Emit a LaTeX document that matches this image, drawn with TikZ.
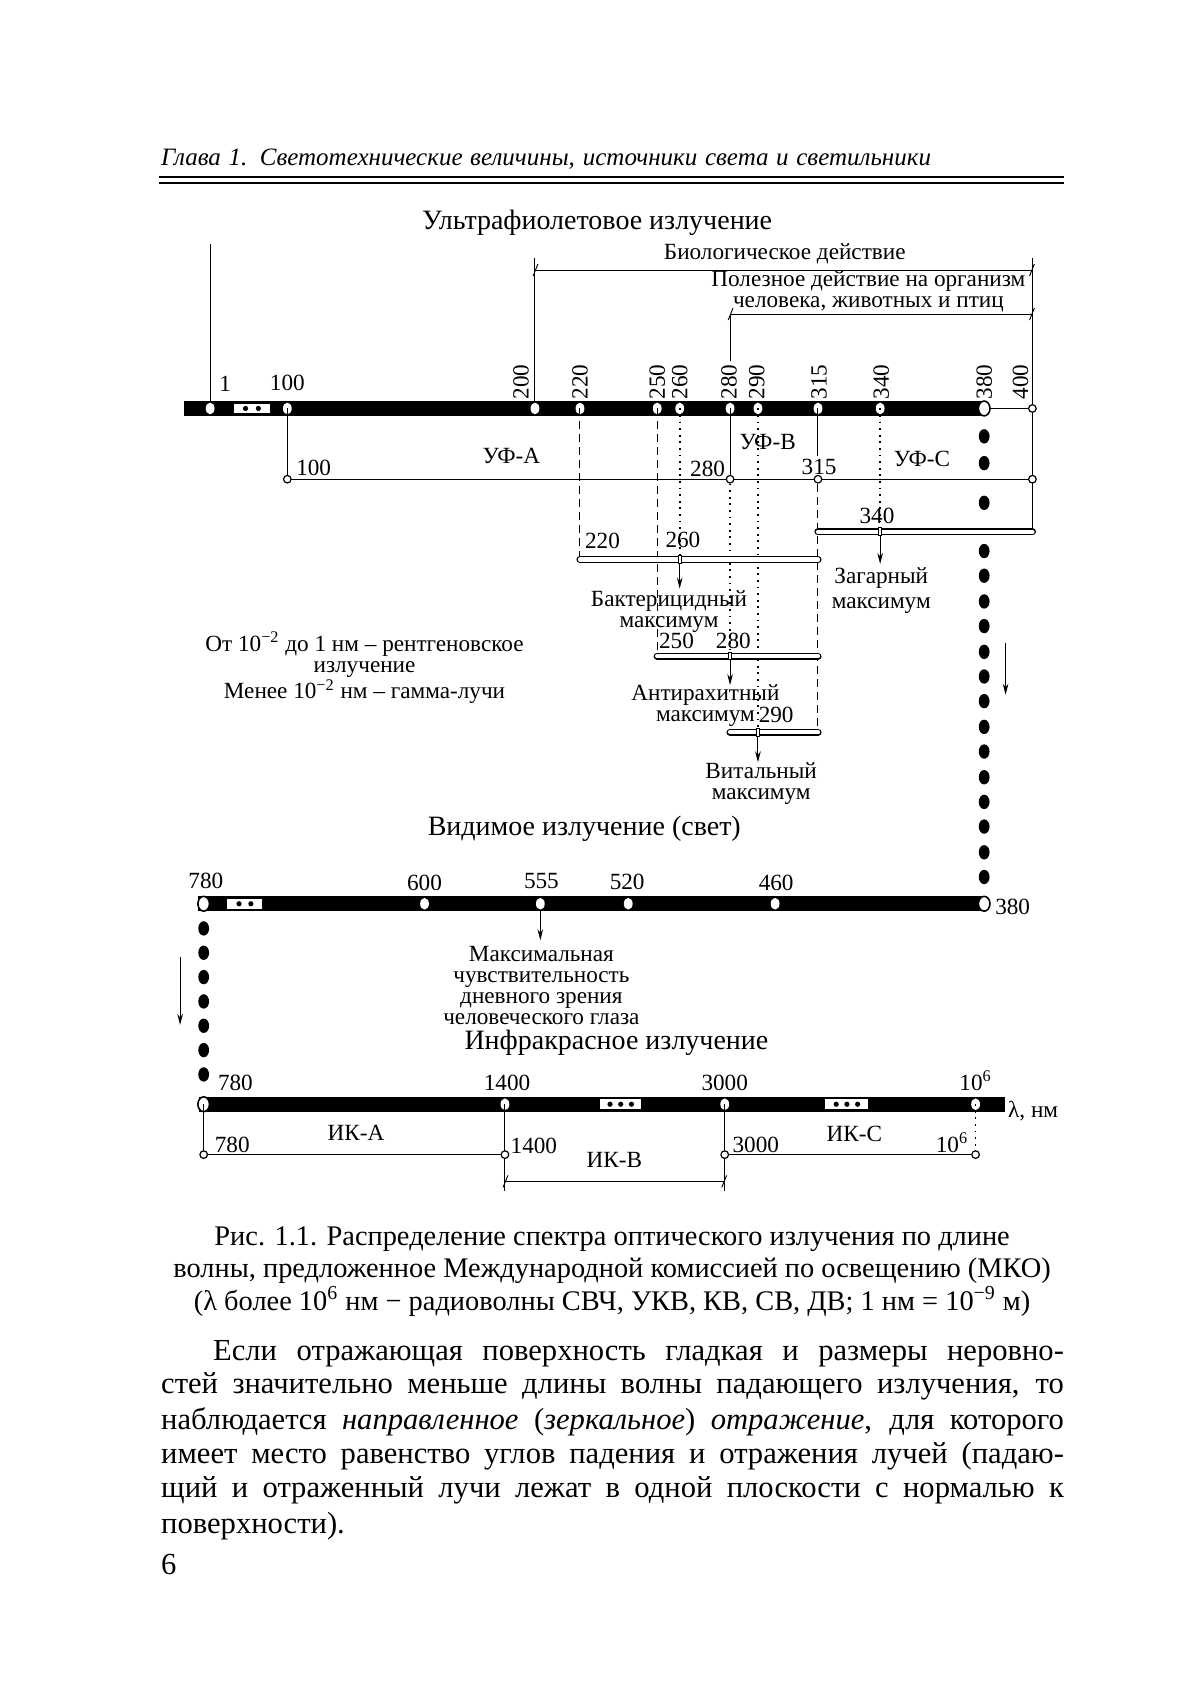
\documentclass[tikz,border=0pt]{standalone}
\usepackage{fontspec}
\setmainfont{Liberation Serif}
\usetikzlibrary{arrows.meta,shapes.geometric}

\begin{document}
\begin{tikzpicture}[x=0.53619pt,y=-0.53619pt]

% ---------------------------------------------------------------- styles
\tikzset{
  lbl/.style    = {inner sep=0pt, align=center, font=\fontsize{11.6}{10.5}\selectfont},
  ttl/.style    = {inner sep=0pt, font=\fontsize{14}{16}\selectfont},
  txt/.style    = {inner sep=0pt, anchor=base west, font=\fontsize{15.3}{17}\selectfont},
  captxt/.style = {inner sep=0pt, anchor=base, font=\fontsize{14.2}{15}\selectfont},
  vnum/.style   = {lbl, rotate=90, anchor=west},
  band/.style   = {line width=7.5pt},
  wdot/.style   = {ellipse, fill=white, inner sep=0pt, minimum width=4.4pt, minimum height=5.8pt},
  bdot/.style   = {ellipse, fill=black, inner sep=0pt, minimum width=5.4pt, minimum height=7.2pt},
  sdot/.style   = {circle, fill=black, inner sep=0pt, minimum size=2.6pt},
  endc/.style   = {ellipse, draw, fill=white, line width=0.8pt, inner sep=0pt,
                   minimum width=5.8pt, minimum height=7.4pt},
  ocirc/.style  = {circle, draw, fill=white, line width=0.6pt, inner sep=0pt, minimum size=3.8pt},
  skipbox/.style= {rectangle, fill=white, inner sep=0pt, minimum height=4.8pt},
  notch/.style  = {rectangle, draw, fill=white, line width=0.5pt, inner sep=0pt,
                   minimum width=1.6pt, minimum height=3.8pt},
  thinl/.style  = {line width=0.5pt},
  dsh/.style    = {thinl, dash pattern=on 4pt off 2.5pt},
  dtt/.style    = {line width=0.9pt, dash pattern=on 0.9pt off 2.4pt},
  tube/.style   = {line width=0.7pt, double distance=2.2pt, line cap=round},
  arr/.style    = {thinl, -{Stealth[length=5.5pt,width=2.8pt]}},
  brk/.style    = {thinl, {Bar[width=6pt,slant=.4]}-{Bar[width=6pt,slant=.4]}},
}

\useasboundingbox (0,0) rectangle (1119,1568);
\fill[white] (0,0) rectangle (1119,1568);

% ================================================================ header
\node[inner sep=0pt, anchor=base west, font=\fontsize{12.5}{14}\selectfont\itshape] (hdr) at (150,154)
  {\makebox[385pt][s]{Глава 1. Светотехнические величины, источники света и светильники}};
\coordinate (hrA) at (148,165);  \coordinate (hrB) at (992,165);
\coordinate (hrC) at (148,171);  \coordinate (hrD) at (992,171);
\draw[line width=1.1pt] (hrA) -- (hrB);
\draw[line width=1.1pt] (hrC) -- (hrD);

% ============================================================ 1 ultraviolet
\node[ttl] (tuv) at (557,208) {Ультрафиолетовое излучение};

\foreach \v/\x in {1/196,100/268,200/499,220/541,250/613,260/634,280/681,
                   290/707,315/763,340/821,380/918,400/963}
  \coordinate (u\v) at (\x,381);
\coordinate (uvL)  at (172,381);
\coordinate (topL) at (0,228);
\coordinate (bioT) at (0,241);
\coordinate (bio)  at (0,252);
\coordinate (use)  at (0,293);
\coordinate (lblT) at (0,337);
\coordinate (l315) at (0,425);
\coordinate (rowA) at (0,447);
\coordinate (rowB) at (0,496);
\coordinate (rowC) at (0,522);
\coordinate (rowD) at (0,612);
\coordinate (rowE) at (0,683);

% brackets above the scale
\draw[thinl] (u1) -- (u1 |- topL);
\draw[thinl] (u200) -- (u200 |- bioT);
\draw[thinl] (u400 |- bioT) -- (u400 |- rowB);
\draw[brk]   (u200 |- bio) -- (u400 |- bio);
\draw[thinl] (u280 |- lblT) -- (u280 |- use);
\draw[brk]   (u280 |- use) -- (u400 |- use);
\node[lbl] (tbio) at (732,237) {Биологическое действие};
\node[lbl] (tuse) at (810,272) {Полезное действие на организм\\человека, животных и птиц};

% the scale itself
\draw[band]  (uvL) -- (u380);
\draw[thinl] (u380) -- (u400);
\node[skipbox, minimum width=18pt] (gapu) at (235,381) {};
\node[sdot] (gu1) at (229,381) {};
\node[sdot] (gu2) at (241,381) {};
\foreach \v in {1,100,200,220,250,260,280,290,315,340}
  \node[wdot] (du\v) at (u\v) {};
\node[endc]  (du380) at (u380) {};
\node[ocirc] (du400) at (u400) {};

\node[lbl] (nu1)   at (210,358) {1};
\node[lbl] (nu100) at (268,357) {100};
\foreach \v/\x in {200/486,220/541,250/613,260/634,280/680,290/706,
                   315/764,340/822,380/918,400/952}
  \node[vnum] (nv\v) at (\x,373) {\v};

% UV-A, UV-B, UV-C
\draw[thinl] (u100) -- (u100 |- rowA) -- (u400 |- rowA);
\draw[thinl] (u315) -- (u315 |- l315);
\draw[thinl] (u280) -- (u280 |- rowA);
\node[ocirc] (a100) at (u100 |- rowA) {};
\node[ocirc] (a280) at (u280 |- rowA) {};
\node[ocirc] (a315) at (u315 |- rowA) {};
\node[ocirc] (a400) at (u400 |- rowA) {};
\node[lbl, anchor=west] (na100) at (276,436) {100};
\node[lbl] (na280) at (660,437) {280};
\node[lbl] (na315) at (764,436) {315};
\node[lbl] (tufa) at (477,425) {УФ-А};
\node[lbl] (tufb) at (716,412) {УФ-В};
\node[lbl] (tufc) at (860,428) {УФ-С};

% guide lines down to the maxima
\draw[dsh] (u220) -- (u220 |- rowC);
\draw[dsh] (u250) -- (u250 |- rowD);
\draw[dtt] (u260) -- (u260 |- rowC);
\draw[dtt] (a280) -- (u280 |- rowD);
\draw[dtt] (u290) -- (u290 |- rowE);
\draw[dtt] (u340) -- (u340 |- rowB);
\draw[dsh] (a315) -- (u315 |- rowE);

% the four maxima
\draw[tube] (u315 |- rowB) -- (u400 |- rowB);
\draw[tube] (u220 |- rowC) -- (u315 |- rowC);
\draw[tube] (u250 |- rowD) -- (u315 |- rowD);
\draw[tube] (u280 |- rowE) -- (u315 |- rowE);
\node[notch] (m340) at (u340 |- rowB) {};
\node[notch] (m260) at (u260 |- rowC) {};
\node[notch] (m280) at (u280 |- rowD) {};
\node[notch] (m290) at (u290 |- rowE) {};
\coordinate (e340) at (821,526);
\coordinate (e260) at (634,549);
\coordinate (e280) at (681,639);
\coordinate (e290) at (707,711);
\draw[arr] (m340) -- (e340);
\draw[arr] (m260) -- (e260);
\draw[arr] (m280) -- (e280);
\draw[arr] (m290) -- (e290);

\node[lbl] (nb340) at (818,481) {340};
\node[lbl] (nc220) at (562,505) {220};
\node[lbl] (nc260) at (637,504) {260};
\node[lbl] (nd250) at (631,598) {250};
\node[lbl] (nd280) at (684,598) {280};
\node[lbl] (ne290) at (724,667) {290};

\node[lbl] (tzag) at (822,551) {Загарный\\[2pt]максимум};
\node[lbl] (tbak) at (624,570) {Бактерицидный\\максимум};
\node[lbl] (tant) at (658,658) {Антирахитный\\максимум};
\node[lbl] (tvit) at (710,731) {Витальный\\максимум};

\node[lbl] (txray) at (340,623)
  {От 10\textsuperscript{−2} до 1 нм – рентгеновское\\излучение\\Менее 10\textsuperscript{−2} нм – гамма-лучи};

% dotted path from 380 nm down to the visible scale
\foreach \y [count=\i] in {407,432,469,514,537,561,584,608,631,654,678,701,725,748,771,795,818}
  \node[bdot] (bu\i) at (918,\y) {};
\coordinate (dnA) at (938,600);
\coordinate (dnB) at (938,648);
\draw[arr] (dnA) -- (dnB);

% ============================================================ 2 visible
\node[ttl] (tvis) at (545,773) {Видимое излучение (свет)};

\foreach \v/\x in {780/190,600/396,555/504,520/586,460/723,380/918}
  \coordinate (v\v) at (\x,843);
\coordinate (visL) at (185,843);
\draw[band] (visL) -- (v380);
\node[skipbox, minimum width=17.5pt] (gapv) at (228.5,843) {};
\node[sdot] (gv1) at (223,843) {};
\node[sdot] (gv2) at (234,843) {};
\foreach \v in {600,555,520,460}
  \node[wdot] (dv\v) at (v\v) {};
\node[endc] (dv780) at (v780) {};
\node[endc] (dv380) at (v380) {};

\node[lbl] (nv780) at (192,822) {780};
\node[lbl] (nv600) at (396,824) {600};
\node[lbl] (nv555) at (505,822) {555};
\node[lbl] (nv520) at (585,823) {520};
\node[lbl] (nv460) at (724,824) {460};
\node[lbl, anchor=west] (nv380) at (928,846) {380};

\coordinate (e555) at (504,877);
\draw[arr] (dv555) -- (e555);
\node[lbl] (teye) at (505,919)
  {Максимальная\\чувствительность\\дневного зрения\\человеческого глаза};

% dotted path from 780 nm down to the infrared scale
\foreach \i in {0,...,6}
  \node[bdot] (bv\i) at (190,866+22.7*\i) {};
\coordinate (dnC) at (168,893);
\coordinate (dnD) at (168,956);
\draw[arr] (dnC) -- (dnD);

% ============================================================ 3 infrared
\node[ttl] (tir) at (575,973) {Инфракрасное излучение};

\foreach \v/\x in {780/190,1400/471,3000/676,e6/910}
  \coordinate (i\v) at (\x,1030);
\coordinate (irL)  at (186,1030);
\coordinate (irR)  at (937,1030);
\coordinate (rowI) at (0,1077);
\coordinate (rowK) at (0,1102);
\coordinate (rowJ) at (0,1111);
\draw[band] (irL) -- (irR);
\node[skipbox, minimum width=20.5pt] (gapi1) at (579,1030) {};
\node[skipbox, minimum width=21.5pt] (gapi2) at (790,1030) {};
\foreach \x [count=\i] in {569,579,589,780,790,800}
  \node[sdot] (gi\i) at (\x,1030) {};
\node[endc] (di780) at (i780) {};
\foreach \v in {1400,3000,e6}
  \node[wdot] (di\v) at (i\v) {};

\node[lbl, anchor=west] (ni780) at (203,1010) {780};
\node[lbl] (ni1400) at (473,1010) {1400};
\node[lbl] (ni3000) at (676,1010) {3000};
\node[lbl] (nie6)   at (910,1008) {10\textsuperscript{6}};
\node[lbl, anchor=west] (nlam) at (940,1036) {λ, нм};

% IR-A, IR-B, IR-C
\draw[thinl] (i780) -- (i780 |- rowI) -- (i1400 |- rowI);
\draw[thinl] (i1400) -- (i1400 |- rowJ);
\draw[thinl] (i3000) -- (i3000 |- rowJ);
\draw[thinl] (i3000 |- rowI) -- (ie6 |- rowI);
\draw[dtt]   (ie6) -- (ie6 |- rowI);
\draw[brk]   (i1400 |- rowK) -- (i3000 |- rowK);
\node[ocirc] (k780)  at (i780 |- rowI) {};
\node[ocirc] (k1400) at (i1400 |- rowI) {};
\node[ocirc] (k3000) at (i3000 |- rowI) {};
\node[ocirc] (ke6)   at (ie6 |- rowI) {};

\node[lbl, anchor=west] (nk780)  at (200,1068) {780};
\node[lbl, anchor=west] (nk1400) at (476,1069) {1400};
\node[lbl, anchor=west] (nk3000) at (683,1068) {3000};
\node[lbl] (nke6) at (888,1066) {10\textsuperscript{6}};
\node[lbl] (tika) at (332,1057) {ИК-А};
\node[lbl] (tikb) at (573,1082) {ИК-В};
\node[lbl] (tikc) at (797,1058) {ИК-С};

% ================================================================ caption
\node[captxt] (cap1) at (571,1162) {Рис. 1.1. Распределение спектра оптического излучения по длине};
\node[captxt] (cap2) at (571,1192) {волны, предложенное Международной комиссией по освещению (МКО)};
\node[captxt] (cap3) at (571,1222)
  {(λ более 10\textsuperscript{6} нм − радиоволны СВЧ, УКВ, КВ, СВ, ДВ; 1 нм = 10\textsuperscript{−9} м)};

% ================================================================ body text
\node[txt] (par1) at (150,1269)
  {\makebox[451.5pt][s]{\hspace*{26pt}Если отражающая поверхность гладкая и размеры неровно-}};
\node[txt] (par2) at (150,1300)
  {\makebox[451.5pt][s]{стей значительно меньше длины волны падающего излучения, то}};
\node[txt] (par3) at (150,1333)
  {\makebox[451.5pt][s]{наблюдается \textit{направленное} (\textit{зеркальное}) \textit{отражение}, для которого}};
\node[txt] (par4) at (150,1365)
  {\makebox[451.5pt][s]{имеет место равенство углов падения и отражения лучей (падаю-}};
\node[txt] (par5) at (150,1397)
  {\makebox[451.5pt][s]{щий и отраженный лучи лежат в одной плоскости с нормалью к}};
\node[txt] (par6) at (150,1430) {поверхности).};
\node[txt] (pgno) at (150,1469) {6};

\end{tikzpicture}
\end{document}
